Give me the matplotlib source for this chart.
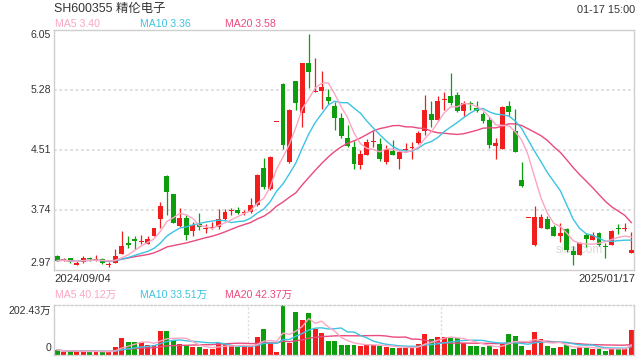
import numpy as np
import pandas as pd
import matplotlib
matplotlib.use("Agg")
import matplotlib.pyplot as plt

plt.rcParams['font.family'] = ['Liberation Sans', 'Noto Sans CJK SC', 'DejaVu Sans']

# ---- data ----
title = "SH600355 精伦电子"
stamp = "01-17 15:00"
date_start = "2024/09/04"
date_end = "2025/01/17"
price_ticks = ["6.05", "5.28", "4.51", "3.74", "2.97"]
vol_ticks = ["202.43万", "0"]
price_legend = ["MA5 3.40", "MA10 3.36", "MA20 3.58"]
vol_legend = ["MA5 40.12万", "MA10 33.51万", "MA20 42.37万"]

opens = [3.15, 3.10, 3.12, 3.04, 3.07, 3.115, 3.10, 3.11, 3.035, 3.06,
         3.175, 3.32, 3.365, 3.325, 3.31, 3.405, 3.63, 4.175, 3.94, 3.535,
         3.64, 3.475, 3.555, 3.495, 3.505, 3.525, 3.63, 3.725, 3.74, 3.70,
         3.715, 3.81, 4.28, 4.005, 4.87, 5.355, 4.35, 5.39, 4.99, 5.625,
         5.255, 5.27, 5.195, 5.075, 4.92, 4.67, 4.55, 4.32, 4.45, 4.615,
         4.585, 4.355, 4.50, 4.40, 4.51, 4.54, 4.60, 4.76, 4.97, 4.895,
         5.155, 5.205, 5.22, 5.005, 5.11, 5.05, 4.97, 4.895, 4.555, 4.525,
         5.075, 4.75, 4.125, 3.64, 3.285, 3.51, 3.62, 3.525, 3.40, 3.49,
         3.21, 3.165, 3.415, 3.355, 3.44, 3.265, 3.295, 3.515, 3.50, 3.185]
highs = [3.16, 3.12, 3.13, 3.08, 3.15, 3.14, 3.16, 3.13, 3.07, 3.235,
         3.475, 3.40, 3.41, 3.415, 3.40, 3.51, 3.845, 4.185, 3.945, 3.76,
         3.67, 3.59, 3.70, 3.56, 3.585, 3.75, 3.75, 3.765, 3.775, 3.74,
         3.90, 4.20, 4.41, 4.435, 4.87, 5.365, 5.03, 5.39, 5.625, 6.00,
         5.69, 5.52, 5.29, 5.125, 4.98, 4.835, 4.62, 4.51, 4.655, 4.75,
         4.67, 4.57, 4.64, 4.51, 4.60, 4.61, 4.76, 5.21, 5.135, 5.20,
         5.255, 5.495, 5.255, 5.14, 5.145, 5.135, 4.995, 4.93, 4.665, 5.07,
         5.135, 5.04, 4.355, 3.64, 3.79, 3.69, 3.665, 3.545, 3.57, 3.51,
         3.28, 3.33, 3.45, 3.455, 3.455, 3.32, 3.485, 3.56, 3.575, 3.46]
lows = [3.08, 3.08, 3.065, 3.03, 3.06, 3.09, 3.08, 3.05, 3.005, 3.055,
        3.17, 3.25, 3.235, 3.31, 3.305, 3.40, 3.51, 3.68, 3.57, 3.525,
        3.355, 3.40, 3.485, 3.44, 3.49, 3.50, 3.61, 3.67, 3.69, 3.67,
        3.70, 3.79, 4.005, 4.00, 4.87, 4.52, 4.345, 5.02, 4.81, 5.305,
        5.25, 5.03, 5.10, 4.765, 4.67, 4.545, 4.27, 4.26, 4.44, 4.545,
        4.37, 4.33, 4.44, 4.27, 4.50, 4.40, 4.59, 4.70, 4.81, 4.885,
        5.02, 5.085, 4.995, 4.94, 5.025, 5.00, 4.86, 4.535, 4.40, 4.525,
        4.94, 4.485, 4.04, 3.64, 3.28, 3.51, 3.49, 3.40, 3.33, 3.20,
        3.04, 3.165, 3.26, 3.355, 3.28, 3.125, 3.295, 3.43, 3.475, 3.185]
closes = [3.09, 3.10, 3.07, 3.06, 3.13, 3.11, 3.105, 3.06, 3.04, 3.15,
          3.28, 3.295, 3.34, 3.33, 3.37, 3.51, 3.785, 3.97, 3.575, 3.64,
          3.42, 3.55, 3.525, 3.50, 3.51, 3.62, 3.715, 3.73, 3.705, 3.705,
          3.805, 4.19, 4.04, 4.425, 4.87, 4.57, 5.025, 5.115, 5.625, 5.51,
          5.26, 5.32, 5.145, 4.92, 4.69, 4.56, 4.33, 4.465, 4.61, 4.62,
          4.40, 4.525, 4.45, 4.485, 4.52, 4.545, 4.73, 5.02, 4.895, 5.135,
          5.16, 5.115, 5.015, 5.11, 5.10, 5.005, 4.885, 4.57, 4.605, 5.06,
          4.995, 4.49, 4.045, 3.64, 3.655, 3.645, 3.49, 3.405, 3.45, 3.225,
          3.16, 3.32, 3.37, 3.425, 3.295, 3.26, 3.465, 3.50, 3.51, 3.225]
volumes = [20.5, 12.5, 17.5, 12.5, 15.5, 12.5, 15.5, 12.5, 12.5, 31.5,
           68.5, 52.5, 52.5, 52.5, 39.5, 39.5, 98.5, 98.5, 60.5, 44.5,
           36.5, 31.5, 31.5, 25.5, 25.5, 47.5, 47.5, 36.5, 33.5, 31.5,
           33.5, 74.5, 106.5, 47.5, 12.5, 202.43, 47.5, 174.5, 141.5, 171.5,
           106.5, 90.5, 58.5, 58.5, 42.5, 42.5, 42.5, 36.5, 44.5, 39.5,
           36.5, 33.5, 28.5, 28.5, 28.5, 31.5, 44.5, 85.5, 63.5, 74.5,
           71.5, 68.5, 68.5, 50.5, 36.5, 36.5, 33.5, 36.5, 25.5, 47.5,
           85.5, 77.5, 36.5, 20.5, 93.5, 63.5, 36.5, 28.5, 33.5, 39.5,
           25.5, 31.5, 28.5, 25.5, 25.5, 17.5, 28.5, 25.5, 25.5, 101.5]

# ---- styling ----
RED = '#f21d1d'
GREEN = '#0d9e0d'
C_MA5 = '#fba6c3'
C_MA10 = '#3dc3e3'
C_MA20 = '#ea4a7c'
GRID = '#dcdcdc'
FRAME = '#cfcfcf'
TXT = '#333333'

W, H = 640, 360
fig = plt.figure(figsize=(6.4, 3.6), dpi=100)
fig.patch.set_facecolor('white')

def fx(px):
    return px / W

def fy(py):
    return 1 - py / H

ax = fig.add_axes([fx(54), fy(270), 580 / W, 240 / H])
axv = fig.add_axes([fx(54), fy(355), 580 / W, 50 / H])

n = len(closes)
x = np.arange(n)
o = np.array(opens); c = np.array(closes); hi = np.array(highs); lo = np.array(lows)
up = c >= o
colors = np.where(up, RED, GREEN)

close_s = pd.Series(c)
ma5 = close_s.rolling(5, min_periods=1).mean()
ma10 = close_s.rolling(10, min_periods=1).mean()
ma20 = close_s.rolling(20, min_periods=1).mean()

ymin, ymax = float(price_ticks[-1]), float(price_ticks[0])
ax.set_xlim(-0.51, n - 1 + 0.42)
ax.set_ylim(ymin, ymax)
for t in price_ticks[1:-1]:
    ax.axhline(float(t), color=GRID, lw=1.3, ls=(0, (1.5, 1.5)), zorder=0)

ax.vlines(x, lo, hi, colors=colors, lw=0.9, zorder=2)
body_h = np.maximum(np.abs(c - o), 0.014)
body_b = np.minimum(o, c)
ax.bar(x, body_h, bottom=body_b, width=0.76, color=colors, lw=0, zorder=3)

ax.plot(x, ma20, color=C_MA20, lw=1.0, zorder=4)
ax.plot(x, ma10, color=C_MA10, lw=1.0, zorder=4)
ax.plot(x, ma5, color=C_MA5, lw=1.0, zorder=4)

ax.text(0.905, 0.085, 'sina.com', transform=ax.transAxes, color='#d9d9d9',
        fontsize=8.5, ha='center', va='center', zorder=1)

for a in (ax, axv):
    a.set_xticks([]); a.set_yticks([])
    for s in a.spines.values():
        s.set_color(FRAME); s.set_linewidth(1.0)

# volume panel
v = pd.Series(volumes)
vma5 = v.rolling(5, min_periods=1).mean()
vma10 = v.rolling(10, min_periods=1).mean()
vma20 = v.rolling(20, min_periods=1).mean()
axv.set_xlim(-0.51, n - 1 + 0.42)
axv.set_ylim(0, float(vol_ticks[0].replace('万', '')))
axv.bar(x, volumes, width=0.76, color=colors, lw=0, zorder=2)
axv.plot(x, vma20, color=C_MA20, lw=1.0, zorder=3)
axv.plot(x, vma10, color=C_MA10, lw=1.0, zorder=3)
axv.plot(x, vma5, color=C_MA5, lw=1.0, zorder=3)
for s in ('top', 'bottom'):
    axv.spines[s].set_linestyle((0, (1.5, 1.5)))
for xv in (29.6, 59.5):
    axv.axvline(xv, color=GRID, lw=1.0, ls=(0, (1.5, 1.5)), zorder=0)

# texts
fs = 7.6
fig.text(fx(54), fy(9), title, fontsize=8.9, color=TXT, ha='left', va='center')
fig.text(fx(635), fy(10), stamp, fontsize=7.8, color=TXT, ha='right', va='center')
for lab, px_, col in zip(price_legend, (55, 140, 225), (C_MA5, C_MA10, C_MA20)):
    fig.text(fx(px_), fy(24), lab, fontsize=fs, color=col, ha='left', va='center')
for lab, px_, col in zip(vol_legend, (55, 140, 225), (C_MA5, C_MA10, C_MA20)):
    fig.text(fx(px_), fy(295), lab, fontsize=fs, color=col, ha='left', va='center')
for lab, py in zip(price_ticks, (35, 90, 150, 210, 263)):
    fig.text(fx(51), fy(py), lab, fontsize=fs, color=TXT, ha='right', va='center')
fig.text(fx(51), fy(311), vol_ticks[0], fontsize=fs, color=TXT, ha='right', va='center')
fig.text(fx(51), fy(348), vol_ticks[1], fontsize=fs, color=TXT, ha='right', va='center')
fig.text(fx(54), fy(279), date_start, fontsize=8.1, color=TXT, ha='left', va='center')
fig.text(fx(635), fy(279), date_end, fontsize=8.1, color=TXT, ha='right', va='center')

fig.savefig('out.png', dpi=100, facecolor='white')
